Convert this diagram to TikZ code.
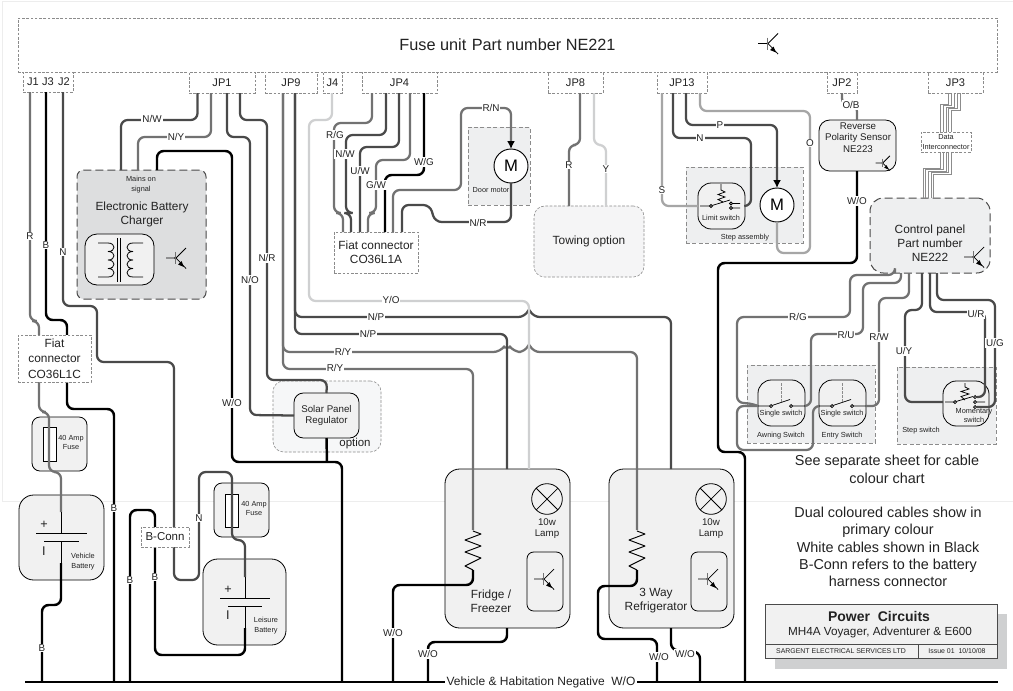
\documentclass[tikz,border=0pt]{standalone}
\usepackage{fontspec}
\setmainfont{Liberation Sans}
\usetikzlibrary{arrows.meta}
\definecolor{cdark}{HTML}{4A4A4A}
\definecolor{cgray}{HTML}{727272}
\definecolor{cmid}{HTML}{A6A6A6}
\definecolor{clight}{HTML}{CFD0D1}
\definecolor{ccharger}{HTML}{DDDEDF}
\definecolor{cpanel}{HTML}{F1F1F1}
\definecolor{cgroup}{HTML}{EEEFF0}
\definecolor{cdash}{HTML}{8C8C8C}
\definecolor{cink}{HTML}{222222}
\newcounter{auton}
\newcommand{\bx}[7]{\pgfmathsetmacro\bxcx{(#3+#5)/2}\pgfmathsetmacro\bxcy{(#4+#6)/2}\pgfmathsetmacro\bxw{(#5-#3)*0.75}\pgfmathsetmacro\bxh{(#6-#4)*0.75}\node[#1,minimum width=\bxw pt,minimum height=\bxh pt] (#2) at (\bxcx,\bxcy) {#7};}
\newcommand{\tx}[4]{\stepcounter{auton}\node[txt,#1] (t\theauton) at (#2,#3) {#4};}
\newcommand{\wl}[3]{\stepcounter{auton}\node[wlab] (w\theauton) at (#1,#2) {#3};}
\tikzset{
 wire/.style={line width=1.7pt,rounded corners=5pt,line cap=butt},
 wdark/.style={wire,draw=cdark},
 wgray/.style={wire,draw=cgray},
 wblack/.style={wire,draw=black,line width=1.85pt},
 wlight/.style={wire,draw=clight},
 wmid/.style={wire,draw=cmid},
 wfine/.style={line width=.55pt,draw=cdash},
 fine/.style={line width=.55pt,draw=black},
 txt/.style={inner sep=0pt,outer sep=0pt,align=center,text=cink},
 wlab/.style={fill=white,inner sep=.7pt,outer sep=0pt,text=cink,font=\fontsize{7.4}{8.6}\selectfont},
 fbig/.style={font=\fontsize{12.2}{14}\selectfont},
 fmain/.style={font=\fontsize{8.9}{10.6}\selectfont},
 ftab/.style={font=\fontsize{8.3}{10}\selectfont},
 fsm/.style={font=\fontsize{7.3}{8.6}\selectfont},
 ftiny/.style={font=\fontsize{5.5}{6.9}\selectfont},
 fnote/.style={font=\fontsize{10.8}{13}\selectfont},
 fsign/.style={font=\fontsize{9.5}{11}\selectfont},
 basebox/.style={inner sep=0pt,outer sep=0pt,align=center,text=cink},
 tabbox/.style={basebox,draw=cdash,fill=white,line width=.45pt,dash pattern=on 2pt off 1.2pt},
 groupbox/.style={basebox,draw=cdash,fill=cgroup,line width=.45pt,dash pattern=on 3pt off 1.8pt},
 softbox/.style={basebox,draw=cdash,fill=#1,line width=.45pt,dash pattern=on 2pt off 1.2pt,rounded corners=8pt},
 unitbox/.style={basebox,draw=black,fill=cpanel,line width=.6pt,rounded corners=#1},
 darkdash/.style={basebox,draw=cdark,fill=#1,line width=.75pt,dash pattern=on 6pt off 3pt},
 motorsym/.style={circle,draw=black,fill=white,line width=.7pt,inner sep=0pt,outer sep=0pt,minimum size=25.5pt,font=\fontsize{12.5}{14}\selectfont,text=black},
 lampsym/.style={circle,draw=black,fill=cpanel,line width=.6pt,inner sep=0pt,outer sep=0pt,minimum size=23pt},
 pics/trans/.style={code={
   \draw[fine] (-9,0)--(0,0) (0,1)--(11,-10) (0,-1)--(11,10.5);
   \draw[line width=.6pt,draw=cgray] (0,-6)--(0,6);
   \fill[black] (9,9)--(3,6.5)--(6.5,3)--cycle;
 }},
 pics/contact/.style={code={\draw[fine,fill=white] (0,0) circle[radius=1.5];}}
}
\begin{document}
\begin{tikzpicture}[x=0.75pt,y=-0.75pt]
\useasboundingbox (0,0) rectangle (1013,690);
\fill[white] (0,0) rectangle (1013,690);
\draw[draw=black!7,line width=.6pt] (2,1) -- (2,501) -- (1013,501) (2,1) -- (1013,1);

% fuse unit and its tabs
\bx{tabbox,fbig}{fuse}{18}{18}{997}{72}{Fuse unit\,\,Part number NE221}
\bx{tabbox}{jj}{23}{72}{73}{92}{}
\bx{tabbox,ftab}{jp1}{189}{72}{255}{93}{JP1}
\bx{tabbox,ftab}{jp9}{265}{72}{317}{93}{JP9}
\bx{tabbox,ftab}{j4}{323}{72}{342}{93}{J4}
\bx{tabbox,ftab}{jp4}{362}{72}{437}{93}{JP4}
\bx{tabbox,ftab}{jp8}{548}{72}{603}{93}{JP8}
\bx{tabbox,ftab}{jp13}{657}{72}{707}{93}{JP13}
\bx{tabbox,ftab}{jp2}{827}{72}{857}{93}{JP2}
\bx{tabbox,ftab}{jp3}{928}{72}{983}{93}{JP3}
\tx{ftab}{33}{82}{J1}\tx{ftab}{48}{82}{J3}\tx{ftab}{64}{82}{J2}

% containers
\bx{darkdash=ccharger,rounded corners=5pt}{charger}{77}{170}{206}{299}{}
\bx{unitbox=9pt,fill=cpanel}{xfmr}{85}{234}{154}{285}{}
\bx{groupbox}{doorgrp}{468}{127}{530}{205}{}
\bx{softbox=cgroup!60!white,fmain}{towing}{534}{206}{644}{277}{Towing option}
\bx{groupbox}{stepgrp}{686}{167}{803}{243}{}
\bx{unitbox=8pt,fsm}{sensor}{819}{120}{896}{171}{}
\bx{darkdash=cgroup,rounded corners=10pt}{panel}{870}{198}{990}{273}{}
\bx{groupbox}{swgrp}{747}{365}{875}{443}{}
\bx{groupbox}{stepsw}{897}{367}{996}{444}{}
\bx{softbox=cgroup!50!white}{solargrp}{273}{381}{381}{452}{}
\bx{unitbox=7pt,fsm}{solar}{294}{393}{359}{438}{Solar Panel\\Regulator}
\bx{unitbox=6pt}{holdA}{32}{417}{87}{471}{}
\bx{unitbox=6pt}{holdB}{214}{483}{269}{537}{}
\bx{basebox,draw=black,fill=white,line width=.6pt}{fuseA}{43}{427}{56}{461}{}
\bx{basebox,draw=black,fill=white,line width=.6pt}{fuseB}{225}{494}{238}{527}{}
\bx{unitbox=11pt}{batA}{19}{495}{104}{580}{}
\bx{unitbox=11pt}{batB}{203}{559}{286}{645}{}
\bx{unitbox=11pt}{fridge}{445}{469}{570}{628}{}
\bx{unitbox=11pt}{refrig}{609}{469}{734}{628}{}
\bx{unitbox=5pt}{boxF}{527}{552}{563}{611}{}
\bx{unitbox=5pt}{boxR}{691}{552}{727}{611}{}
\bx{unitbox=10pt}{swA}{758}{380}{805}{426}{}
\bx{unitbox=10pt}{swB}{819}{380}{866}{426}{}
\bx{unitbox=10pt}{swC}{943}{381}{989}{426}{}
\bx{unitbox=10pt}{swL}{698}{183}{745}{229}{}

% motors and lamps
\node[motorsym] (motorD) at (511,166) {M};
\node[motorsym] (motorS) at (777,205) {M};
\node[lampsym] (lampF) at (547,499) {};
\node[lampsym] (lampR) at (711,499) {};
\draw[fine] (lampF.north west)--(lampF.south east) (lampF.north east)--(lampF.south west);
\draw[fine] (lampR.north west)--(lampR.south east) (lampR.north east)--(lampR.south west);

% bus
\coordinate (busL) at (25,682);
\coordinate (busR) at (998,682);
\draw[line width=1.9pt,black] (busL) -- (busR);
\coordinate (bus42) at (42,682);\coordinate (bus114) at (114,682);\coordinate (bus130) at (130,682);
\coordinate (bus342) at (342,682);\coordinate (bus393) at (393,682);\coordinate (bus428) at (428,682);
\coordinate (bus657) at (657,682);\coordinate (bus700) at (700,682);\coordinate (bus745) at (745,682);

% J wires
\draw[wgray] (jj.south -| 30,0) -- (30,321) -- (39,321) -- (39,335);
\draw[wblack] (jj.south -| 46,0) -- (46,320) -- (67,320) -- (67,335);
\draw[wblack] (67,382) -- (67,409) -- (114,409) -- (bus114);
\draw[wdark] (jj.south -| 63,0) -- (63,306) -- (97,306) -- (97,362) -- (174,362) -- (174,580) -- (199,580) -- (199,472) -- (232,472) -- (232,540) -- (245,540) -- (245,577);
\draw[wgray] (39,382) -- (39,412) -- (49,412) -- (49,472) -- (61,472) -- (61,512);
% JP1
\draw[wdark] (jp1.south -| 197.5,0) -- (197.5,120) -- (121,120) -- (charger.north -| 121,0);
\draw[wgray] (jp1.south -| 211,0) -- (211,137) -- (138,137) -- (charger.north -| 138,0);
\draw[wdark] (jp1.south -| 227,0) -- (227,137) -- (250,137) -- (250,415) -- (solar.west);
\draw[wdark] (jp1.south -| 240,0) -- (240,120) -- (267,120) -- (267,380) -- (327,380) -- (solar.north);
\draw[wblack] (charger.north -| 157,0) -- (157,151) -- (232,151) -- (232,462) -- (342,462) -- (bus342);
\draw[wblack] (solar.south) -- (327,462);
% JP9 / J4
\draw[wgray] (jp9.south -| 283,0) -- (283,352) -- (500,352) .. controls (503,348) and (511,348) .. (514,352) -- (525,352) .. controls (527,348) and (531,348) .. (533,352) -- (637,352) -- (637,530);
\draw[wgray] (jp9.south -| 283,0) -- (283,369) -- (473,369) -- (473,530);
\draw[wdark] (jp9.south -| 295,0) -- (295,317) -- (525,317) .. controls (527,313) and (531,313) .. (533,317) -- (671,317) -- (refrig.north -| 671,0);
\draw[wdark] (jp9.south -| 295,0) -- (295,334) -- (507,334) -- (fridge.north -| 507,0);
\draw[wlight] (j4.south -| 332,0) -- (332,120) -- (309,120) -- (309,301) -- (529,301) -- (fridge.north -| 529,0);
% JP4
\bx{tabbox,fmain}{fiatA}{334}{232}{418}{273}{Fiat connector\\[-.2pt]CO36L1A}
\draw[wgray] (jp4.south -| 372,0) -- (372,123) -- (334,123) -- (334,213) -- (343,213) -- (fiatA.north -| 343,0);
\draw[wdark] (jp4.south -| 386,0) -- (386,135) -- (346,135) -- (346,213) -- (351,213) -- (fiatA.north -| 351,0);
\draw[wdark] (jp4.south -| 399,0) -- (399,147) -- (360,147) -- (fiatA.north -| 360,0);
\draw[wgray] (jp4.south -| 410,0) -- (410,160) -- (376,160) -- (376,213) -- (368,213) -- (fiatA.north -| 368,0);
\draw[wblack] (jp4.south -| 424,0) -- (424,175) -- (385,175) -- (fiatA.north -| 385,0);
\draw[wgray,-{Latex[length=6pt,width=6pt,black]}] (fiatA.north -| 393,0) -- (393,190) -- (461,190) -- (461,108) -- (511,108) -- (motorD.north);
\draw[wdark] (motorD.south) -- (511,222) -- (435,222) -- (430,205) -- (402,205) -- (fiatA.north -| 402,0);
% JP8
\draw[wgray] (jp8.south -| 580,0) -- (580,145) -- (569,145) -- (towing.north -| 569,0);
\draw[wlight] (jp8.south -| 594,0) -- (594,145) -- (606,145) -- (towing.north -| 606,0);
% JP13
\draw[wmid] (jp13.south -| 662,0) -- (662,206) -- (swL.west |- 0,206);
\draw[wdark] (jp13.south -| 673,0) -- (673,138) -- (751,138) -- (751,206) -- (swL.east |- 0,206);
\draw[wdark,-{Latex[length=6pt,width=6pt,black]}] (jp13.south -| 686,0) -- (686,125) -- (777,125) -- (motorS.north);
\draw[wmid] (jp13.south -| 700,0) -- (700,111) -- (810,111) -- (810,253) -- (777,253) -- (motorS.south);
% JP2, sensor
\draw[wgray] (jp2.south -| 842,0) -- (842,105) -- (857,105) -- (sensor.north -| 857,0);
\draw[wblack] (sensor.south -| 857,0) -- (857,263) -- (718,263) -- (718,452) -- (745,452) -- (bus745);
% JP3 bundle
\bx{tabbox,ftiny}{data}{921}{132}{971}{152}{Data\\Interconnector}
\foreach \d in {0,...,4}{
 \pgfmathsetmacro\xt{948.5+3*\d}\pgfmathsetmacro\xm{940.5+2.7*\d}\pgfmathsetmacro\xb{923+2.7*\d}
 \pgfmathsetmacro\ya{104+1.5*\d}\pgfmathsetmacro\yb{168+1.5*\d}
 \draw[wfine] (jp3.south -| \xt,0) -- (\xt,\ya) -- (\xm,\ya) -- (data.north -| \xm,0);
 \draw[wfine] (data.south -| \xm,0) -- (\xm,\yb) -- (\xb,\yb) -- (panel.north -| \xb,0);
}
% panel wires
\draw[wgray] (panel.south -| 895,0) -- (895,275) -- (850,275) -- (850,317) -- (737,317) -- (737,403) -- (750,403) -- (swA.west |- 0,406);
\draw[wgray] (swA.west |- 0,406) -- (737,406) -- (737,450) -- (813,450) -- (813,406) -- (swB.west |- 0,406);
\draw[wgray] (panel.south -| 901,0) -- (901,283) -- (863,283) -- (863,334) -- (811,334) -- (811,406) -- (swA.east |- 0,406);
\draw[wgray] (panel.south -| 909,0) -- (909,298) -- (879,298) -- (879,406) -- (swB.east |- 0,406);
\draw[wdark] (panel.south -| 922,0) -- (922,310) -- (905,310) -- (905,402) -- (swC.west |- 0,402);
\draw[wdark] (panel.south -| 930,0) -- (930,312) -- (985,312) -- (985,397) -- (977,397);
\draw[wdark] (panel.south -| 937,0) -- (937,300) -- (995,300) -- (995,407) -- (977,407);
% battery wires
\draw[wblack] (61,563) -- (61,605) -- (42,605) -- (bus42);
\draw[wblack] (245,628) -- (245,655) -- (155,655) -- (155,547);
\draw[wblack] (155,527) -- (155,510) -- (130,510) -- (bus130);
% fridge wires
\draw[wblack] (473,570) -- (473,585) -- (393,585) -- (bus393);
\draw[wblack] (637,570) -- (637,586) -- (598,586) -- (598,639) -- (657,639) -- (bus657);
\draw[wblack] (fridge.south -| 507,0) -- (507,642) -- (428,642) -- (bus428);
\draw[wblack] (refrig.south -| 671,0) -- (671,650) -- (700,652) -- (bus700);
% overlays
\bx{tabbox,fmain}{fiatC}{18}{335}{91}{382}{Fiat\\[1pt]connector\\[1pt]CO36L1C}
\bx{tabbox,font=\fontsize{8.6}{10}\selectfont}{bconn}{141}{527}{189}{547}{B-Conn}

% batteries
\draw[fine] (36,533)--(87,533) (44,541)--(79,541) (61,512)--(61,533) (61,541)--(61,563);
\draw[fine] (220,598)--(270,598) (228,606)--(262,606) (245,577)--(245,598) (245,606)--(245,628);
% resistors
\foreach \c/\e in {473/fridge,637/refrig}{
 \draw[line width=.7pt,black,line join=round] (\c,531)--(\c+8,534)--(\c-8,540)--(\c+8,546)--(\c-8,552)--(\c+8,558)--(\c-8,566)--(\c,570);
}
% transformer
\draw[line width=.6pt,black] (117,238)--(117,282) (120,238)--(120,282);
\draw[line width=.6pt,black] (98,243)--(108,243) \foreach \y in {243,251.5,260,268.5}{ (108,\y) .. controls (116,\y) and (116,\y+8.5) .. (108,\y+8.5)} (108,277)--(98,277);
\draw[line width=.6pt,black] (143,243)--(133,243) \foreach \y in {243,251.5,260,268.5}{ (133,\y) .. controls (125,\y) and (125,\y+8.5) .. (133,\y+8.5)} (133,277)--(143,277);
% transistors
\pic at (767,43.5) {trans};
\pic at (175,258) {trans};
\pic at (543,579) {trans};
\pic at (707,579) {trans};
\pic at (973,257) {trans};
\pic[scale=.72] at (882,163) {trans};
% limit switch
\draw[fine] (700,206)--(711,206) (712,205.5)--(730,200) (732,203.5)--(740,203.5) (732,208)--(740,208);
\draw[fine] (721,184)--(721,190)--(725,192)--(718,194.5)--(725,197)--(718,199.5)--(723,202);
\pic at (711,206) {contact};\pic at (731,203.5) {contact};\pic at (731,208) {contact};
% single switches
\foreach \o in {0,61}{
 \draw[fine] (758+\o,406)--(771+\o,406) (772+\o,405.5)--(790+\o,399.5) (792+\o,406)--(805+\o,406);
 \draw[wfine,dash pattern=on 2pt off 1pt] (781+\o,383)--(781+\o,402);
 \pic at (771+\o,406) {contact};\pic at (791+\o,406) {contact};
}
% momentary switch
\draw[fine] (945,402)--(954,402) (956,401.5)--(973,396.5) (977,402)--(985,402);
\draw[fine] (965,383)--(965,387)--(969,389)--(961,391.5)--(969,394)--(961,396.5)--(965,400);
\pic at (955,402) {contact};\pic at (975,397) {contact};\pic at (975,402) {contact};\pic at (975,407) {contact};

% texts
\tx{ftiny}{141}{184.5}{Mains on\\signal}
\tx{fmain}{142}{214}{Electronic Battery\\Charger}
\tx{ftiny}{491}{190}{Door motor}
\tx{ftiny}{721}{218}{Limit switch}
\tx{ftiny}{745}{238}{Step assembly}
\tx{fsm}{858}{137.5}{Reverse\\Polarity Sensor\\NE223}
\tx{fmain}{930}{243}{Control panel\\Part number\\NE222}
\tx{ftiny}{781}{414}{Single switch}
\tx{ftiny}{842}{414}{Single switch}
\tx{ftiny}{781}{436}{Awning Switch}
\tx{ftiny}{842}{436}{Entry Switch}
\tx{ftiny}{974}{415.5}{Momentary\\switch}
\tx{ftiny}{921}{431}{Step switch}
\tx{font=\fontsize{8.6}{10}\selectfont}{355}{444}{option}
\tx{ftiny}{71}{442.5}{40 Amp\\Fuse}
\tx{ftiny}{254}{508.5}{40 Amp\\Fuse}
\tx{ftiny}{83}{561.5}{Vehicle\\Battery}
\tx{ftiny}{266}{625.5}{Leisure\\Battery}
\tx{fsign}{44}{525}{+}\tx{fsign}{44}{551}{I}
\tx{fsign}{228}{590}{+}\tx{fsign}{228}{615}{I}
\tx{fsm}{547}{528.5}{10w\\Lamp}
\tx{fsm}{711}{528.5}{10w\\Lamp}
\tx{fmain}{491}{601}{Fridge /\\Freezer}
\tx{fmain}{656}{601}{3 Way\\Refrigerator}
\tx{fnote}{887}{469.5}{See separate sheet for cable\\[.2pt]colour chart}
\tx{fnote}{888}{547}{Dual coloured cables show in\\primary colour\\White cables shown in Black\\B-Conn refers to the battery\\harness connector}

% wire labels
\wl{30}{236}{R}\wl{46}{245}{B}\wl{63}{252}{N}
\wl{152}{119}{N/W}\wl{176}{137}{N/Y}\wl{250}{280}{N/O}\wl{267}{258}{N/R}\wl{232}{403}{W/O}
\wl{335}{135}{R/G}\wl{345}{154}{N/W}\wl{360}{171}{U/W}\wl{376}{185}{G/W}\wl{424}{162}{W/G}
\wl{491}{108}{R/N}\wl{478}{223}{N/R}
\wl{569}{165}{R}\wl{606}{169}{Y}
\wl{662}{190}{S}\wl{700}{138}{N}\wl{720}{125}{P}\wl{810}{143}{O}
\wl{851}{105}{O/B}\wl{857}{201}{W/O}
\wl{391}{300}{Y/O}\wl{376}{317}{N/P}\wl{368}{334}{N/P}\wl{343}{352}{R/Y}\wl{335}{368}{R/Y}
\wl{798}{317}{R/G}\wl{846}{335}{R/U}\wl{879}{337}{R/W}\wl{904}{351}{U/Y}\wl{976}{314}{U/R}\wl{995}{343}{U/G}
\wl{114}{508}{B}\wl{199}{518}{N}\wl{155}{577}{B}\wl{130}{580}{B}\wl{42}{648}{B}
\wl{393}{633}{W/O}\wl{428}{654}{W/O}\wl{659}{657}{W/O}\wl{685}{654}{W/O}
\node[txt,fill=white,inner xsep=1.5pt,inner ysep=1pt,font=\fontsize{9}{10}\selectfont] (busname) at (541,682) {Vehicle \& Habitation Negative\ \ W/O};

% title block
\fill[clight] (775,614) rectangle (1007,669);
\bx{basebox,draw=cdark,fill=cpanel,line width=.7pt}{title}{765}{604}{997}{658}{}
\draw[draw=cdark,line width=.7pt] (title.west |- 0,644) -- (title.east |- 0,644);
\draw[draw=cdark,line width=.7pt] (918,644) -- (title.south -| 918,0);
\tx{font=\fontsize{10.5}{12}\bfseries\selectfont}{879}{616}{Power\ \ Circuits}
\tx{font=\fontsize{8.8}{10}\selectfont}{880}{632}{MH4A Voyager, Adventurer \& E600}
\tx{font=\fontsize{5.2}{6}\selectfont}{841}{651}{SARGENT ELECTRICAL SERVICES LTD}
\tx{font=\fontsize{5.2}{6}\selectfont}{957}{651}{Issue 01\ \ 10/10/08}
\end{tikzpicture}
\end{document}
